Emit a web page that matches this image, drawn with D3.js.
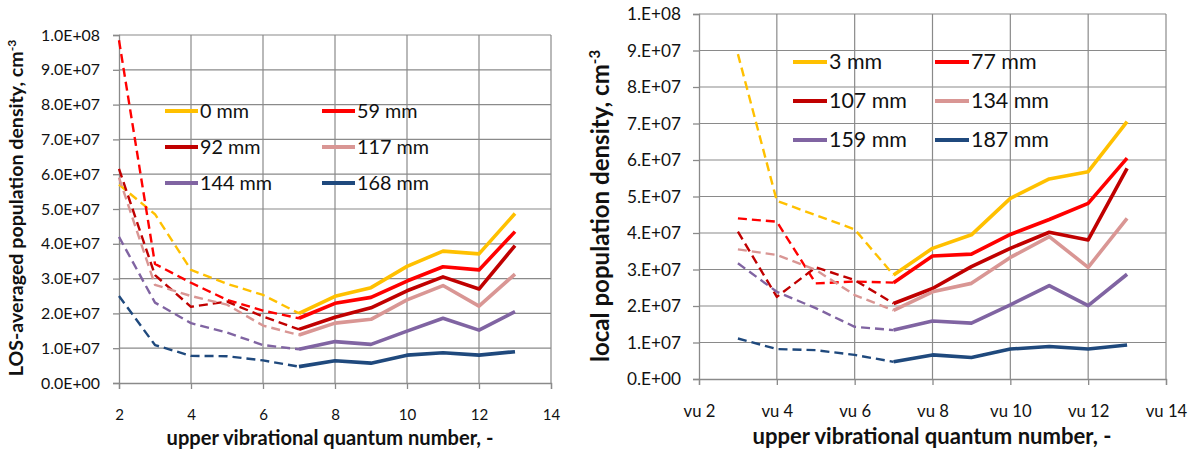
<!DOCTYPE html>
<html><head><meta charset="utf-8">
<script src="https://cdn.jsdelivr.net/npm/d3@7"></script>
<style>
body{margin:0;background:#fff}
svg{display:block}
text{font-family:Lato,'Open Sans',sans-serif;fill:#111}
</style>
</head><body>
<svg id="c" width="1198" height="453"></svg>
<script>
// ---------- data ----------
const xLeft = [2,3,4,5,6,7,8,9,10,11,12,13];
const leftNames = ["0 mm","59 mm","92 mm","117 mm","144 mm","168 mm"];
const left0mm   = [5.70e7,4.85e7,3.25e7,2.85e7,2.53e7,2.00e7,2.49e7,2.74e7,3.35e7,3.79e7,3.71e7,4.87e7];
const left59mm  = [9.85e7,3.42e7,2.88e7,2.39e7,2.08e7,1.86e7,2.29e7,2.46e7,2.93e7,3.34e7,3.25e7,4.35e7];
const left92mm  = [6.15e7,3.10e7,2.19e7,2.34e7,1.91e7,1.54e7,1.89e7,2.16e7,2.65e7,3.05e7,2.70e7,3.95e7];
const left117mm = [5.90e7,2.82e7,2.50e7,2.25e7,1.65e7,1.38e7,1.72e7,1.83e7,2.39e7,2.80e7,2.21e7,3.13e7];
const left144mm = [4.20e7,2.31e7,1.72e7,1.45e7,1.09e7,0.97e7,1.19e7,1.11e7,1.49e7,1.86e7,1.52e7,2.05e7];
const left168mm = [2.50e7,1.09e7,0.78e7,0.77e7,0.65e7,0.47e7,0.64e7,0.57e7,0.80e7,0.87e7,0.80e7,0.90e7];

const xRight = [3,4,5,6,7,8,9,10,11,12,13];
const rightNames = ["3 mm","77 mm","107 mm","134 mm","159 mm","187 mm"];
const right3mm   = [8.90e7,4.88e7,4.49e7,4.10e7,2.85e7,3.58e7,3.95e7,4.95e7,5.48e7,5.68e7,7.05e7];
const right77mm  = [4.40e7,4.31e7,2.62e7,2.67e7,2.64e7,3.37e7,3.42e7,3.96e7,4.37e7,4.81e7,6.05e7];
const right107mm = [4.04e7,2.25e7,3.06e7,2.71e7,2.07e7,2.48e7,3.08e7,3.58e7,4.02e7,3.81e7,5.77e7];
const right134mm = [3.55e7,3.40e7,2.99e7,2.30e7,1.88e7,2.39e7,2.62e7,3.33e7,3.90e7,3.06e7,4.40e7];
const right159mm = [3.17e7,2.39e7,1.94e7,1.43e7,1.34e7,1.59e7,1.53e7,2.03e7,2.56e7,2.01e7,2.87e7];
const right187mm = [1.11e7,0.82e7,0.79e7,0.66e7,0.47e7,0.66e7,0.59e7,0.82e7,0.89e7,0.82e7,0.93e7];

const seriesColors = ["#FFC000","#FF0000","#C00000","#D99694","#8064A2","#1F497D"];
const xTicks = [2,4,6,8,10,12,14];
const yTicks = [0,1e7,2e7,3e7,4e7,5e7,6e7,7e7,8e7,9e7,1e8];
const dashedUntil = 7;

const xTitle = "upper vibrational quantum number, -";
const leftYTitle = "LOS-averaged population density, cm";
const rightYTitle = "local population density, cm";

// ---------- drawing ----------
const svg = d3.select("#c");
const GRID = "#8a8a8a";

function fitSize(txt, weight, target){
  const t = svg.append("text").attr("font-size",100).attr("font-weight",weight).text(txt);
  const w = t.node().getComputedTextLength();
  t.remove();
  return 100*target/w;
}

function expFmt(decimals){
  return d => {
    if (d === 0) return (decimals ? "0." + "0".repeat(decimals) : "0.") + "E+00";
    const e = Math.floor(Math.log10(d) + 1e-9);
    const m = d/Math.pow(10,e);
    const ms = decimals ? m.toFixed(decimals) : m.toFixed(0) + ".";
    return ms + "E+" + String(e).padStart(2,"0");
  };
}

function panel(cfg){
  const g = svg.append("g");
  const x = d3.scaleLinear().domain([2,14]).range([cfg.x0,cfg.x1]);
  const y = d3.scaleLinear().domain([0,1e8]).range([cfg.y0,cfg.y1]);

  // gridlines
  g.append("g").selectAll("line").data(yTicks.filter(d=>d>0)).join("line")
    .attr("x1",cfg.x0).attr("x2",cfg.x1).attr("y1",d=>y(d)).attr("y2",d=>y(d))
    .attr("stroke",GRID).attr("stroke-width",1.2);
  g.append("g").selectAll("line").data(xTicks.filter(d=>d>2)).join("line")
    .attr("x1",d=>x(d)).attr("x2",d=>x(d)).attr("y1",cfg.y0).attr("y2",cfg.y1)
    .attr("stroke",GRID).attr("stroke-width",1.2);

  // axes
  const yFs = fitSize(cfg.yFmt(1e8),400,cfg.yLabW);
  const ya = g.append("g").attr("transform",`translate(${cfg.x0},0)`)
    .call(d3.axisLeft(y).tickValues(yTicks).tickFormat(cfg.yFmt).tickSize(6).tickPadding(cfg.yPad));
  ya.selectAll("text").attr("font-size",yFs).attr("font-family","Lato").attr("fill","#111");
  const xFs = fitSize(cfg.xFmt(10),400,cfg.xLabW);
  const xa = g.append("g").attr("transform",`translate(0,${cfg.y0})`)
    .call(d3.axisBottom(x).tickValues(xTicks).tickFormat(cfg.xFmt).tickSize(6).tickPadding(cfg.xPad));
  xa.selectAll("text").attr("font-size",xFs).attr("font-family","Lato").attr("fill","#111");
  [ya,xa].forEach(a=>{
    a.selectAll("path,line").attr("stroke",GRID).attr("stroke-width",1.3);
  });

  // series
  const line = d3.line().x(d=>x(d[0])).y(d=>y(d[1]));
  cfg.series.forEach((vals,i)=>{
    const pts = cfg.xs.map((xv,j)=>[xv,vals[j]]);
    g.append("path").datum(pts.filter(p=>p[0]<=dashedUntil)).attr("d",line)
      .attr("fill","none").attr("stroke",seriesColors[i]).attr("stroke-width",2.4)
      .attr("stroke-dasharray","9,5").attr("stroke-linejoin","round");
    g.append("path").datum(pts.filter(p=>p[0]>=dashedUntil)).attr("d",line)
      .attr("fill","none").attr("stroke",seriesColors[i]).attr("stroke-width",3.6)
      .attr("stroke-linejoin","round");
  });

  // legend
  const lgFs = fitSize(cfg.legendFitText,400,cfg.legendFitW);
  cfg.names.forEach((n,i)=>{
    const col = i%2, row = Math.floor(i/2);
    const lx = cfg.legX[col], ly = cfg.legY[row];
    g.append("line").attr("x1",lx).attr("x2",lx+cfg.legLen).attr("y1",ly).attr("y2",ly)
      .attr("stroke",seriesColors[i]).attr("stroke-width",4);
    g.append("text").attr("x",lx+cfg.legLen+2).attr("y",ly).attr("dy","0.35em")
      .attr("font-size",lgFs).text(n);
  });

  // titles
  const xtFs = fitSize(xTitle,700,cfg.xTitleW);
  g.append("text").attr("x",cfg.xTitleX).attr("y",cfg.xTitleY).attr("text-anchor","middle")
    .attr("font-weight",700).attr("font-size",xtFs).text(xTitle);
  const ytFs = fitSize(cfg.yTitle,700,cfg.yTitleW);
  const yt = g.append("text").attr("transform",`translate(${cfg.yTitleX},${cfg.yTitleY}) rotate(-90)`)
    .attr("text-anchor","middle").attr("font-weight",700).attr("font-size",ytFs);
  yt.append("tspan").text(cfg.yTitle);
  yt.append("tspan").attr("font-size",ytFs*0.62).attr("dy",-ytFs*0.38).text("-3");
}

panel({
  x0:119, x1:551, y0:383, y1:35,
  xs:xLeft, series:[left0mm,left59mm,left92mm,left117mm,left144mm,left168mm], names:leftNames,
  yFmt:expFmt(1), xFmt:d=>String(d), yLabW:59, xLabW:17.5, yPad:13, xPad:20,
  legX:[165,322], legY:[111,147,183], legLen:33, legendFitText:"144 mm", legendFitW:72,
  xTitleW:327, xTitleX:330, xTitleY:445,
  yTitle:leftYTitle, yTitleW:325, yTitleX:23, yTitleY:208
});
panel({
  x0:699, x1:1166, y0:379, y1:14,
  xs:xRight, series:[right3mm,right77mm,right107mm,right134mm,right159mm,right187mm], names:rightNames,
  yFmt:expFmt(0), xFmt:d=>"vu " + d, yLabW:54, xLabW:41.5, yPad:12, xPad:20,
  legX:[793,935], legY:[62,101,140], legLen:34, legendFitText:"134 mm", legendFitW:78,
  xTitleW:359, xTitleX:932, xTitleY:444,
  yTitle:rightYTitle, yTitleW:298, yTitleX:609, yTitleY:206
});
</script>
</body></html>
